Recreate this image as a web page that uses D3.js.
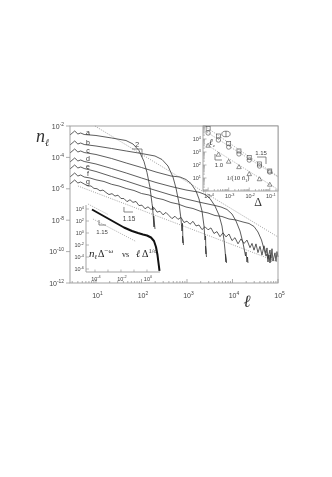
<!DOCTYPE html>
<html><head><meta charset="utf-8">
<script src="https://cdn.jsdelivr.net/npm/d3@7"></script>
<style>body{margin:0;background:#fff}svg{display:block;will-change:transform}</style></head>
<body><svg id="c" width="332" height="477"></svg>
<script>
// ---------- DATA (all points as [log10(x), log10(y)]) ----------
const curveLabels = ["a","b","c","d","e","f","g"];
const curveA = [[0.429,-2.573],[0.532,-2.318],[0.602,-2.510],[0.664,-2.446],[0.741,-2.541],[1.0,-2.605],[1.343,-2.764],[1.659,-2.924],[1.813,-3.146],[1.945,-3.561],[2.055,-4.261],[2.121,-4.962],[2.187,-5.917],[2.231,-6.936],[2.253,-7.350],[2.242,-7.1],[2.275,-8.433],[2.268,-7.732],[2.297,-8.561]];
const curveB = [[0.429,-3.210],[0.532,-2.955],[0.602,-3.146],[0.664,-3.083],[0.741,-3.178],[1.0,-3.274],[1.343,-3.433],[1.664,-3.592],[2.0,-3.752],[2.297,-3.911],[2.451,-4.134],[2.582,-4.548],[2.692,-5.248],[2.758,-5.949],[2.824,-6.904],[2.868,-7.924],[2.890,-8.688],[2.901,-8.2],[2.912,-9.452],[2.901,-9.006],[2.923,-9.580]];
const curveC = [[0.429,-3.720],[0.532,-3.465],[0.602,-3.656],[0.664,-3.592],[0.741,-3.688],[1.0,-3.815],[1.343,-4.070],[1.664,-4.357],[2.0,-4.643],[2.319,-4.930],[2.648,-5.185],[2.846,-5.248],[2.978,-5.408],[3.088,-5.662],[3.198,-6.140],[3.264,-6.650],[3.330,-7.414],[3.374,-8.369],[3.396,-9.261],[3.407,-9.0],[3.418,-10.153],[3.407,-9.643],[3.429,-10.344]];
const curveD = [[0.429,-4.293],[0.532,-4.038],[0.602,-4.229],[0.664,-4.166],[0.741,-4.261],[1.0,-4.420],[1.343,-4.707],[1.664,-4.994],[2.0,-5.312],[2.319,-5.599],[2.648,-5.854],[2.978,-6.076],[3.264,-6.217],[3.396,-6.363],[3.505,-6.618],[3.615,-7.096],[3.703,-7.669],[3.769,-8.369],[3.813,-9.261],[3.835,-9.898],[3.857,-10.662],[3.846,-10.153],[3.868,-10.726]];
const curveE = [[0.429,-4.739],[0.532,-4.484],[0.602,-4.675],[0.664,-4.611],[0.741,-4.707],[1.0,-4.898],[1.343,-5.217],[1.664,-5.503],[2.0,-5.822],[2.319,-6.108],[2.648,-6.395],[2.978,-6.650],[3.308,-6.873],[3.615,-7.064],[3.747,-7.159],[3.879,-7.318],[3.989,-7.605],[4.077,-8.051],[4.165,-8.688],[4.231,-9.452],[4.286,-10.280],[4.297,-10.025],[4.319,-10.662],[4.330,-10.344],[4.341,-10.726]];
const curveF = [[0.429,-5.248],[0.532,-4.994],[0.602,-5.185],[0.664,-5.121],[0.741,-5.248],[0.868,-5.312],[1.0,-5.427],[1.176,-5.535],[1.343,-5.713],[1.505,-5.822],[1.664,-5.981],[1.835,-6.108],[2.0,-6.299],[2.165,-6.395],[2.319,-6.586],[2.473,-6.682],[2.648,-6.873],[2.802,-6.968],[2.978,-7.159],[3.132,-7.255],[3.308,-7.446],[3.462,-7.541],[3.615,-7.701],[3.769,-7.764],[3.923,-7.924],[4.077,-7.987],[4.231,-8.115],[4.363,-8.210],[4.473,-8.401],[4.560,-8.752],[4.637,-9.261],[4.692,-9.834],[4.736,-10.280],[4.758,-10.153],[4.780,-10.662],[4.802,-10.217],[4.824,-10.726],[4.835,-10.217],[4.846,-10.662]];
const curveG = [[0.429,-5.694],[0.532,-5.439],[0.602,-5.631],[0.664,-5.567],[0.741,-5.694],[0.824,-5.815],[0.890,-5.820],[0.956,-5.973],[1.022,-5.992],[1.088,-6.126],[1.154,-6.081],[1.220,-6.234],[1.286,-6.368],[1.352,-6.310],[1.418,-6.463],[1.484,-6.406],[1.549,-6.616],[1.615,-6.622],[1.681,-6.819],[1.747,-6.698],[1.813,-6.864],[1.879,-6.806],[1.945,-7.068],[2.011,-7.042],[2.077,-7.270],[2.143,-7.149],[2.209,-7.315],[2.275,-7.194],[2.341,-7.487],[2.407,-7.429],[2.473,-7.658],[2.538,-7.505],[2.604,-7.703],[2.670,-7.900],[2.736,-7.747],[2.802,-7.945],[2.868,-7.824],[2.934,-8.148],[3.0,-8.059],[3.066,-8.257],[3.132,-8.072],[3.198,-8.365],[3.264,-8.307],[3.330,-8.600],[3.396,-8.415],[3.462,-8.612],[3.527,-8.491],[3.593,-8.847],[3.659,-8.726],[3.725,-9.051],[3.791,-8.803],[3.857,-9.064],[3.923,-8.879],[3.989,-9.299],[4.055,-9.114],[4.121,-9.503],[4.187,-9.191],[4.253,-9.484],[4.319,-9.267],[4.385,-9.751],[4.429,-9.479],[4.473,-9.908],[4.516,-9.509],[4.560,-10.065],[4.604,-9.666],[4.648,-10.221],[4.692,-9.631],[4.736,-10.124],[4.758,-9.765],[4.780,-10.425],[4.824,-9.899],[4.846,-10.431],[4.868,-9.817],[4.890,-10.605],[4.934,-10.078],[4.956,-10.611],[4.978,-9.998],[5.0,-10.340]];
const curves = [curveA, curveB, curveC, curveD, curveE, curveF, curveG];
const labelLogN = [-2.414,-3.051,-3.592,-4.102,-4.580,-5.057,-5.535];
const labelLogL = 0.824;
const guideSlope2 = [[0.978,-2.0],[5.0,-9.07]];
const guideSlope115 = [[0.604,-5.822],[5.0,-10.662]];
const mainXTickExps = [1,2,3,4,5];
const mainYTickExps = [-2,-4,-6,-8,-10,-12];

// inset (top right): log10 Δ and log10 values
const deltaLog = [-4.0,-3.5,-3.0,-2.5,-2.0,-1.5,-1.0];
const lcSquares = [4.81,4.23,3.65,3.08,2.58,2.08,1.54];
const lcCircles = [4.46,3.92,3.38,2.85,2.38,1.92,1.46];
const invN1Tri  = [3.50,2.81,2.27,1.85,1.31,0.92,0.50];
const insetSqLine = [[-4.15,4.97],[-0.6,1.12]];
const insetCiLine = [[-4.15,4.61],[-0.6,1.08]];
const insetTrLine = [[-4.20,3.69],[-0.6,0.11]];
const insetXTickExps = [-4,-3,-2,-1];
const insetYTickExps = [4,3,2,1];

// inset (lower left): collapsed curve, log10(ℓΔ^{1/σ}), log10(nΔ^{-ω})
const collapse = [[-4.231,3.917],[-3.615,3.167],[-3.0,2.417],[-2.385,1.667],[-1.769,0.917],[-1.154,0.333],[-0.692,0.0],[-0.308,-0.25],[0.0,-0.417],[0.308,-0.75],[0.538,-1.333],[0.692,-2.333],[0.808,-3.667],[0.885,-5.0],[0.962,-6.333]];
const collapseGuideUp = [[-4.538,4.833],[-3.0,3.083]];
const collapseGuideLo = [[-4.154,2.333],[-0.846,-1.417]];
const lowXTickExps = [-4,-2,0];
const lowYTickExps = [4,2,0,-2,-4,-6];

// ---------- DRAW ----------
const svg = d3.select("#c");
const SANS = "Liberation Sans, Arial, Helvetica, sans-serif";
const SERIF = "Liberation Serif, Times New Roman, serif";
const TXT = "#444", FRAME = "#999", CURVE = "#333", DOT = "#999";
const E = v => Math.pow(10, v);

const x = d3.scaleLog().domain([E(0.429), 1e5]).range([70, 278]);
const y = d3.scaleLog().domain([1e-2, 1e-12]).range([126, 283]);
const L = d3.line().x(d => x(E(d[0]))).y(d => y(E(d[1])));

function powLabel(g, px, py, exp, size, anchor) {
  const t = g.append("text").attr("x", px).attr("y", py).attr("font-size", size)
    .attr("text-anchor", anchor).attr("fill", TXT).attr("font-family", SANS);
  t.append("tspan").text("10");
  t.append("tspan").attr("font-size", size * 0.7).attr("dy", -size * 0.42).text(exp < 0 ? "-" + (-exp) : exp);
}
function minors(lo, hi) {
  const out = [];
  for (let d = Math.floor(lo); d <= Math.ceil(hi); d++)
    for (let k = 1; k < 10; k++) { const v = k * E(d); if (v >= E(lo) * 0.999 && v <= E(hi) * 1.001) out.push(v); }
  return out;
}

// main guide lines
[guideSlope2, guideSlope115].forEach(g => svg.append("path").attr("d", L(g)).attr("fill", "none")
  .attr("stroke", DOT).attr("stroke-width", 0.9).attr("stroke-dasharray", "1,1.3"));

// curves
curves.forEach(c => svg.append("path").attr("d", L(c)).attr("fill", "none")
  .attr("stroke", CURVE).attr("stroke-width", 0.8).attr("stroke-linejoin", "round"));

// curve letters
curveLabels.forEach((s, i) => svg.append("text").attr("x", x(E(labelLogL))).attr("y", y(E(labelLogN[i])) + 2.2)
  .attr("text-anchor", "middle").attr("font-size", 7).attr("font-family", SANS).attr("fill", "#333").text(s));

// slope brackets (main)
const bracket2 = [[1.791,-3.465],[2.011,-3.465],[2.011,-3.975]];
const bracket115 = [[1.615,-7.159],[1.615,-7.478],[1.813,-7.478]];
[bracket2, bracket115].forEach(b => svg.append("path").attr("d", L(b)).attr("fill", "none").attr("stroke", "#555").attr("stroke-width", 0.7));
svg.append("text").attr("x", x(E(1.901))).attr("y", y(E(-3.21)) + 2.5).attr("text-anchor", "middle")
  .attr("font-size", 7.5).attr("font-family", SANS).attr("fill", TXT).text("2");
svg.append("text").attr("x", x(E(1.725))).attr("y", y(E(-7.86)) + 2.5).attr("text-anchor", "middle")
  .attr("font-size", 6.5).attr("font-family", SANS).attr("fill", TXT).text("1.15");

// main frame and axes
svg.append("rect").attr("x", 70).attr("y", 126).attr("width", 208).attr("height", 157)
  .attr("fill", "none").attr("stroke", FRAME).attr("stroke-width", 0.9);
const gx = svg.append("g");
minors(0.429, 5).forEach(v => {
  const isMaj = Math.abs(Math.log10(v) - Math.round(Math.log10(v))) < 1e-6;
  gx.append("line").attr("x1", x(v)).attr("x2", x(v)).attr("y1", 283).attr("y2", 283 - (isMaj ? 4 : 2))
    .attr("stroke", FRAME).attr("stroke-width", 0.8);
});
mainXTickExps.forEach(e => powLabel(gx, x(E(e)) + 1.5, 298, e, 7, "middle"));
mainYTickExps.forEach(e => {
  gx.append("line").attr("x1", 66).attr("x2", 70).attr("y1", y(E(e))).attr("y2", y(E(e))).attr("stroke", FRAME).attr("stroke-width", 0.8);
  powLabel(gx, 64, y(E(e)) + 2.5, e, 7, "end");
});
// axis titles
const yl = svg.append("text").attr("x", 36).attr("y", 142).attr("font-family", SERIF).attr("fill", "#333");
yl.append("tspan").attr("font-size", 18).attr("font-style", "italic").text("n");
yl.append("tspan").attr("font-size", 10).attr("font-style", "italic").attr("dy", 4).text("ℓ");
svg.append("text").attr("x", 247).attr("y", 307).attr("text-anchor", "middle").attr("font-family", SERIF)
  .attr("font-style", "italic").attr("font-size", 17).attr("fill", "#333").text("ℓ");

// ---------- top-right inset ----------
const xi = d3.scaleLog().domain([E(-4.25), E(-0.6)]).range([203, 278]);
const yi = d3.scaleLog().domain([1e5, 1]).range([126, 191]);
const Li = d3.line().x(d => xi(E(d[0]))).y(d => yi(E(d[1])));
const gi = svg.append("g");
gi.append("rect").attr("x", 203).attr("y", 126).attr("width", 75).attr("height", 65).attr("fill", "#fff")
  .attr("stroke", FRAME).attr("stroke-width", 0.9);
minors(0, 5).forEach(v => {
  const isMaj = Math.abs(Math.log10(v) - Math.round(Math.log10(v))) < 1e-6;
  gi.append("line").attr("x1", 203).attr("x2", 203 + (isMaj ? 3.5 : 2)).attr("y1", yi(v)).attr("y2", yi(v)).attr("stroke", FRAME).attr("stroke-width", 0.7);
});
minors(-4.25, -0.6).forEach(v => {
  const isMaj = Math.abs(Math.log10(v) - Math.round(Math.log10(v))) < 1e-6;
  gi.append("line").attr("y1", 191).attr("y2", 191 - (isMaj ? 3.5 : 2)).attr("x1", xi(v)).attr("x2", xi(v)).attr("stroke", FRAME).attr("stroke-width", 0.7);
});
insetXTickExps.forEach(e => powLabel(gi, xi(E(e)) + 1, 198, e, 5.5, "middle"));
insetYTickExps.forEach(e => powLabel(gi, 201, yi(E(e)) + 2, e, 5.5, "end"));
gi.append("text").attr("x", 258).attr("y", 206).attr("text-anchor", "middle").attr("font-family", SERIF)
  .attr("font-size", 12).attr("fill", "#333").text("Δ");
[insetSqLine, insetCiLine, insetTrLine].forEach(g => gi.append("path").attr("d", Li(g)).attr("fill", "none")
  .attr("stroke", DOT).attr("stroke-width", 0.8).attr("stroke-dasharray", "1,1.2"));
deltaLog.forEach((d, i) => {
  const px = xi(E(d));
  gi.append("rect").attr("x", px - 2).attr("y", yi(E(lcSquares[i])) - 2).attr("width", 4).attr("height", 4)
    .attr("fill", "none").attr("stroke", "#555").attr("stroke-width", 0.65);
  gi.append("circle").attr("cx", px).attr("cy", yi(E(lcCircles[i]))).attr("r", 2.2)
    .attr("fill", "none").attr("stroke", "#555").attr("stroke-width", 0.65);
  const ty = yi(E(invN1Tri[i]));
  gi.append("path").attr("d", `M${px - 2.3},${ty + 1.7}L${px + 2.3},${ty + 1.7}L${px},${ty - 2.3}Z`)
    .attr("fill", "none").attr("stroke", "#555").attr("stroke-width", 0.65);
});
const br10 = [[-3.666,2.846],[-3.666,2.385],[-3.325,2.385]];
const br115i = [[-1.622,2.615],[-1.184,2.615],[-1.184,2.077]];
[br10, br115i].forEach(b => gi.append("path").attr("d", Li(b)).attr("fill", "none").attr("stroke", "#555").attr("stroke-width", 0.7));
gi.append("text").attr("x", xi(E(-3.471))).attr("y", yi(E(2.0)) + 2).attr("text-anchor", "middle")
  .attr("font-size", 6).attr("font-family", SANS).attr("fill", TXT).text("1.0");
gi.append("text").attr("x", xi(E(-1.428))).attr("y", yi(E(2.923)) + 2).attr("text-anchor", "middle")
  .attr("font-size", 6).attr("font-family", SANS).attr("fill", TXT).text("1.15");
const tn = gi.append("text").attr("x", xi(E(-2.547))).attr("y", yi(E(1.0)) + 2).attr("text-anchor", "middle")
  .attr("font-size", 6.5).attr("font-family", SERIF).attr("fill", "#333");
tn.append("tspan").text("1/(10 ");
tn.append("tspan").attr("font-style", "italic").text("ñ");
tn.append("tspan").attr("font-size", 4.5).attr("dy", 1.5).text("1");
tn.append("tspan").attr("dy", -1.5).text(")");
const lc = gi.append("text").attr("x", xi(E(-3.812))).attr("y", yi(E(3.769)) + 3).attr("text-anchor", "middle")
  .attr("font-size", 9).attr("font-family", SERIF).attr("font-style", "italic").attr("fill", "#333");
lc.append("tspan").text("ℓ");
lc.append("tspan").attr("font-size", 5).attr("dy", 2).text("c");
const sx = xi(E(-3.131)), sy = yi(E(4.385));
gi.append("ellipse").attr("cx", sx).attr("cy", sy).attr("rx", 4.2).attr("ry", 2.8).attr("fill", "none").attr("stroke", "#555").attr("stroke-width", 0.7);
gi.append("line").attr("x1", sx).attr("x2", sx).attr("y1", sy - 3).attr("y2", sy + 3).attr("stroke", "#555").attr("stroke-width", 0.7);

// ---------- lower-left inset ----------
const xl = d3.scaleLog().domain([E(-4.69), E(1.0)]).range([86, 160]);
const ylo = d3.scaleLog().domain([E(4.667), E(-6.5)]).range([205, 272]);
const Ll = d3.line().x(d => xl(E(d[0]))).y(d => ylo(E(d[1])));
const gl = svg.append("g");
gl.append("path").attr("d", "M86,205V272H160").attr("fill", "none").attr("stroke", FRAME).attr("stroke-width", 0.9);
lowYTickExps.forEach(e => {
  gl.append("line").attr("x1", 86).attr("x2", 89).attr("y1", ylo(E(e))).attr("y2", ylo(E(e))).attr("stroke", FRAME).attr("stroke-width", 0.7);
  powLabel(gl, 84, ylo(E(e)) + 2, e, 5.5, "end");
});
[-4,-3,-2,-1,0].forEach(e => gl.append("line").attr("x1", xl(E(e))).attr("x2", xl(E(e))).attr("y1", 272).attr("y2", 269.5)
  .attr("stroke", FRAME).attr("stroke-width", 0.7));
lowXTickExps.forEach(e => powLabel(gl, xl(E(e)) + 1, 280.5, e, 5.5, "middle"));
[collapseGuideUp, collapseGuideLo].forEach(g => gl.append("path").attr("d", Ll(g)).attr("fill", "none")
  .attr("stroke", DOT).attr("stroke-width", 0.8).attr("stroke-dasharray", "1,1.2"));
gl.append("path").attr("d", Ll(collapse)).attr("fill", "none").attr("stroke", "#111").attr("stroke-width", 2)
  .attr("stroke-linejoin", "round");
const brl = [[-3.692,2.167],[-3.692,1.333],[-3.154,1.333]];
gl.append("path").attr("d", Ll(brl)).attr("fill", "none").attr("stroke", "#555").attr("stroke-width", 0.7);
gl.append("text").attr("x", xl(E(-3.462))).attr("y", ylo(E(0.167)) + 2).attr("text-anchor", "middle")
  .attr("font-size", 6).attr("font-family", SANS).attr("fill", TXT).text("1.15");
const ct = gl.append("text").attr("y", 257).attr("font-family", SERIF).attr("fill", "#222");
ct.append("tspan").attr("x", 89).attr("font-size", 11).attr("font-style", "italic").text("n");
ct.append("tspan").attr("font-size", 6).attr("font-style", "italic").attr("dy", 2).text("ℓ");
ct.append("tspan").attr("x", 98).attr("dy", -2).attr("font-size", 10).text("Δ");
ct.append("tspan").attr("font-size", 7).attr("dy", -4).text("−ω");
ct.append("tspan").attr("x", 122).attr("dy", 4).attr("font-size", 8).text("vs");
ct.append("tspan").attr("x", 136).attr("font-size", 10).attr("font-style", "italic").text("ℓ");
ct.append("tspan").attr("x", 142).attr("font-size", 10).text("Δ");
ct.append("tspan").attr("font-size", 6.5).attr("dy", -4).text("1/σ");
</script>
</body></html>
